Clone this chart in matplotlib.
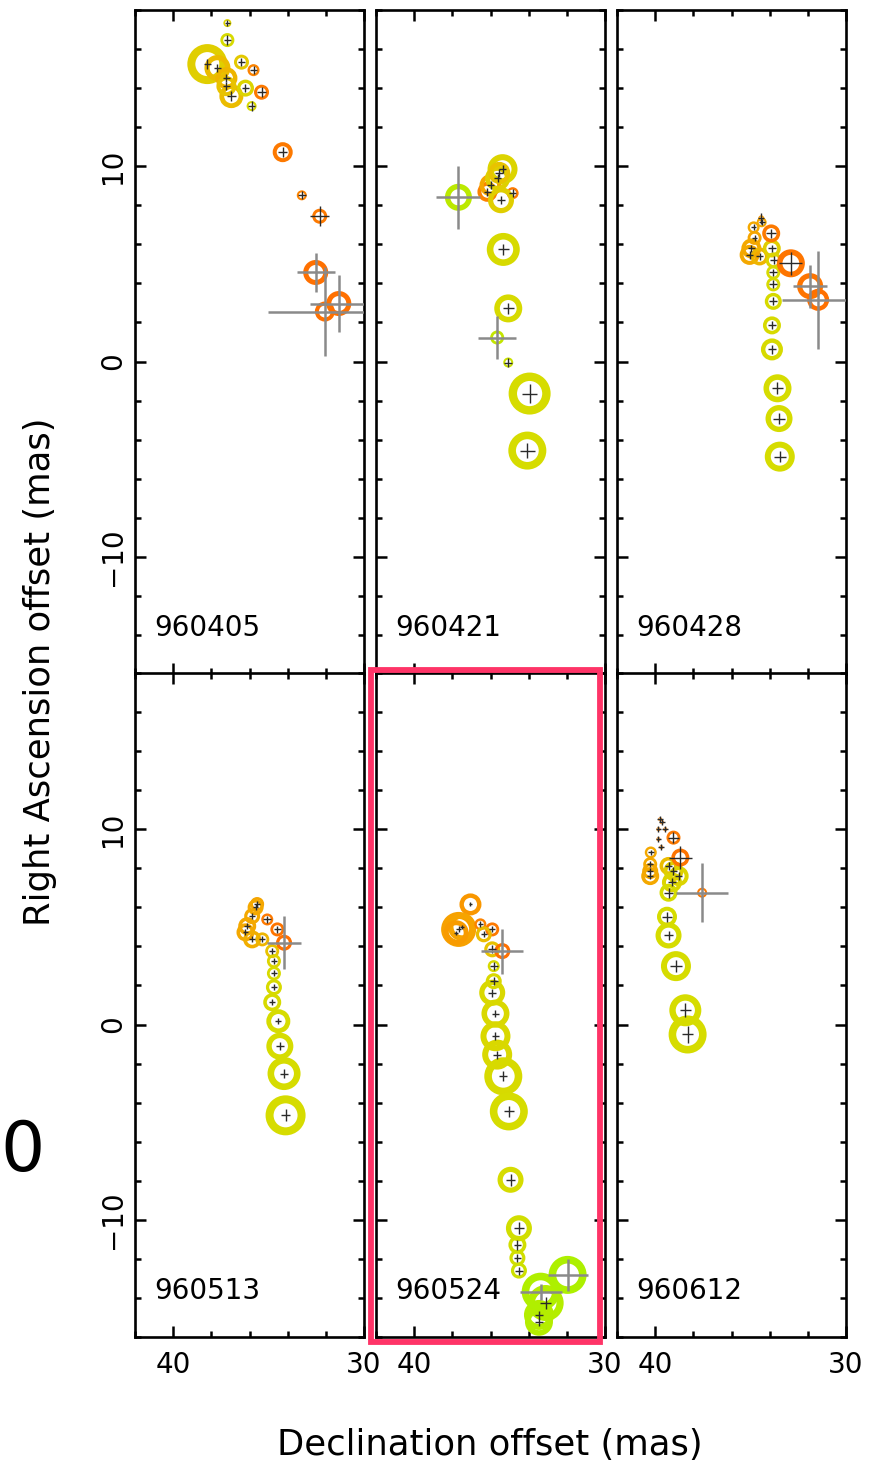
import numpy as np
import matplotlib
matplotlib.use("Agg")
import matplotlib.pyplot as plt
from matplotlib.colors import LinearSegmentedColormap
from matplotlib.ticker import MultipleLocator, FixedLocator
from matplotlib.patches import Rectangle

# ---------------- data (mas) ----------------
labels = ["960405", "960421", "960428", "960513", "960524", "960612"]

p1_x = [37.16, 37.16, 38.21, 37.68, 37.21, 36.42, 35.79, 36.95, 37.21, 36.21, 35.37, 35.89, 34.26, 33.26, 32.32, 32.53, 31.32, 32.05]
p1_y = [17.33, 16.46, 15.23, 15.03, 14.51, 15.33, 14.92, 13.59, 14.10, 14.00, 13.79, 13.08, 10.72, 8.51, 7.44, 4.56, 2.97, 2.56]
p1_s = [8, 14, 40, 26, 22, 15, 12, 24, 20, 17, 15, 10, 20, 10, 15, 25, 25, 20]
p1_v = [0.65, 0.7, 0.6, 0.45, 0.4, 0.55, 0.1, 0.45, 0.5, 0.65, 0.05, 0.7, 0.05, 0.1, 0.05, 0.0, 0.0, 0.0]
p1_ex = [0.15, 0.2, 0.2, 0.2, 0.2, 0.2, 0.2, 0.25, 0.2, 0.2, 0.25, 0.2, 0.25, 0.2, 0.5, 1.0, 1.5, 3.0]
p1_ey = [0.15, 0.25, 0.25, 0.2, 0.2, 0.2, 0.2, 0.25, 0.2, 0.2, 0.25, 0.25, 0.25, 0.2, 0.5, 1.0, 1.45, 2.3]

p2_x = [36.16, 34.84, 36.00, 35.63, 35.37, 35.54, 35.45, 37.68, 35.33, 35.07, 35.65, 35.07, 33.95, 34.07]
p2_y = [8.69, 8.62, 9.03, 9.38, 9.85, 9.66, 8.26, 8.41, 5.74, 2.72, 1.23, -0.05, -1.64, -4.56]
p2_s = [20, 12, 22, 25, 30, 22, 26, 27, 33, 28, 14, 10, 42, 38]
p2_v = [0.1, 0.05, 0.3, 0.6, 0.65, 0.5, 0.6, 0.9, 0.7, 0.7, 0.85, 0.8, 0.72, 0.72]
p2_ex = [0.2, 0.2, 0.2, 0.2, 0.2, 0.2, 0.2, 1.15, 0.3, 0.3, 1.0, 0.2, 0.4, 0.4]
p2_ey = [0.2, 0.2, 0.2, 0.2, 0.2, 0.2, 0.2, 1.6, 0.3, 0.3, 1.1, 0.25, 0.5, 0.4]

p3_x = [34.44, 34.42, 34.84, 34.79, 34.96, 35.05, 34.53, 33.89, 33.79, 33.92, 33.81, 33.81, 33.81, 33.88, 33.88, 33.59, 33.51, 33.47, 32.89, 31.88, 31.46]
p3_y = [7.33, 7.13, 6.87, 6.33, 5.79, 5.46, 5.38, 5.79, 5.18, 6.56, 4.56, 3.95, 3.08, 1.85, 0.62, -1.37, -2.92, -4.87, 5.03, 3.86, 3.16]
p3_s = [6, 10, 12, 14, 20, 20, 18, 18, 16, 18, 14, 14, 17, 18, 22, 28, 27, 30, 28, 26, 22]
p3_v = [0.2, 0.3, 0.3, 0.28, 0.3, 0.3, 0.4, 0.6, 0.65, 0.05, 0.7, 0.7, 0.7, 0.7, 0.7, 0.72, 0.72, 0.72, 0.03, 0.02, 0.0]
p3_ex = [0.15, 0.15, 0.15, 0.15, 0.2, 0.2, 0.2, 0.2, 0.2, 0.25, 0.2, 0.2, 0.2, 0.2, 0.2, 0.3, 0.3, 0.3, 0.6, 0.9, 1.9]
p3_ey = [0.3, 0.15, 0.15, 0.15, 0.2, 0.2, 0.2, 0.2, 0.2, 0.25, 0.2, 0.2, 0.2, 0.2, 0.25, 0.3, 0.3, 0.3, 0.6, 1.1, 2.5]

p4_x = [35.60, 35.68, 35.86, 36.12, 36.21, 35.86, 35.33, 35.07, 34.54, 34.81, 34.72, 34.72, 34.72, 34.81, 34.49, 34.41, 34.19, 34.11, 34.19]
p4_y = [6.17, 6.00, 5.55, 5.04, 4.72, 4.36, 4.36, 5.38, 4.87, 3.76, 3.25, 2.62, 1.91, 1.14, 0.17, -1.11, -2.51, -4.65, 4.19]
p4_s = [14, 16, 16, 18, 18, 18, 14, 12, 14, 14, 14, 14, 16, 18, 24, 27, 33, 40, 16]
p4_v = [0.28, 0.3, 0.3, 0.3, 0.3, 0.35, 0.4, 0.05, 0.02, 0.5, 0.65, 0.7, 0.7, 0.7, 0.72, 0.72, 0.72, 0.72, 0.0]
p4_ex = [0.15, 0.15, 0.15, 0.15, 0.15, 0.15, 0.15, 0.2, 0.2, 0.15, 0.15, 0.15, 0.15, 0.15, 0.15, 0.2, 0.2, 0.25, 0.9]
p4_ey = [0.15, 0.15, 0.15, 0.15, 0.15, 0.15, 0.15, 0.2, 0.2, 0.15, 0.15, 0.15, 0.15, 0.15, 0.15, 0.2, 0.25, 0.3, 1.35]

p5_x = [37.05, 37.67, 37.50, 37.80, 36.53, 35.91, 36.35, 35.91, 35.83, 35.83, 35.91, 35.74, 35.74, 35.65, 35.33, 35.04, 34.95, 34.51, 34.59, 34.59, 34.51, 33.46, 33.46, 33.11, 33.37, 31.96, 35.38]
p5_y = [6.15, 4.87, 5.00, 4.70, 5.13, 4.87, 4.62, 3.85, 2.99, 2.22, 1.63, 0.56, -0.60, -1.54, -2.65, -4.45, -7.95, -10.43, -11.28, -11.95, -12.60, -15.22, -14.87, -14.26, -13.68, -12.82, 3.76]
p5_s = [22, 35, 28, 25, 12, 14, 16, 16, 12, 16, 26, 28, 30, 30, 38, 38, 26, 26, 18, 16, 16, 28, 30, 36, 38, 38, 16]
p5_v = [0.2, 0.25, 0.27, 0.22, 0.1, 0.05, 0.45, 0.5, 0.7, 0.68, 0.68, 0.68, 0.68, 0.68, 0.7, 0.72, 0.72, 0.75, 0.75, 0.75, 0.78, 0.95, 0.95, 0.95, 0.98, 1.0, 0.0]
p5_ex = [0.1, 0.15, 0.1, 0.1, 0.15, 0.15, 0.15, 0.2, 0.2, 0.2, 0.2, 0.2, 0.2, 0.2, 0.2, 0.25, 0.25, 0.25, 0.2, 0.2, 0.2, 0.2, 0.2, 0.3, 1.1, 1.05, 1.1]
p5_ey = [0.1, 0.15, 0.1, 0.1, 0.15, 0.15, 0.15, 0.2, 0.2, 0.2, 0.2, 0.2, 0.2, 0.2, 0.25, 0.3, 0.3, 0.3, 0.25, 0.2, 0.2, 0.2, 0.2, 0.3, 0.4, 0.8, 1.15]

p6_x = [39.74, 39.65, 39.83, 39.47, 39.83, 39.68, 40.23, 40.26, 40.26, 40.26, 39.30, 39.04, 38.77, 39.12, 39.30, 39.04, 38.68, 37.54, 39.38, 39.30, 38.91, 38.42, 38.30]
p6_y = [10.51, 10.36, 10.00, 10.00, 9.49, 9.08, 8.81, 8.21, 7.86, 7.60, 8.12, 7.86, 7.60, 7.28, 6.75, 9.57, 8.55, 6.75, 5.52, 4.56, 2.99, 0.73, -0.51]
p6_s = [4, 4, 4, 4, 4, 4, 12, 14, 16, 18, 18, 20, 20, 20, 18, 14, 18, 10, 20, 26, 30, 32, 38]
p6_v = [0.1, 0.1, 0.1, 0.1, 0.1, 0.1, 0.3, 0.3, 0.3, 0.3, 0.45, 0.6, 0.65, 0.65, 0.72, 0.05, 0.02, 0.05, 0.72, 0.72, 0.72, 0.72, 0.72]
p6_ex = [0.15, 0.15, 0.15, 0.15, 0.15, 0.15, 0.15, 0.15, 0.15, 0.15, 0.2, 0.2, 0.2, 0.2, 0.25, 0.3, 0.6, 1.35, 0.25, 0.25, 0.3, 0.3, 0.3]
p6_ey = [0.15, 0.15, 0.15, 0.15, 0.15, 0.15, 0.15, 0.15, 0.15, 0.15, 0.2, 0.2, 0.2, 0.2, 0.25, 0.3, 0.6, 1.5, 0.25, 0.25, 0.3, 0.35, 0.45]

x_ticks_major = [40, 30]
y_ticks_major = [-10, 0, 10]

panels = [
    (p1_x, p1_y, p1_s, p1_v, p1_ex, p1_ey),
    (p2_x, p2_y, p2_s, p2_v, p2_ex, p2_ey),
    (p3_x, p3_y, p3_s, p3_v, p3_ex, p3_ey),
    (p4_x, p4_y, p4_s, p4_v, p4_ex, p4_ey),
    (p5_x, p5_y, p5_s, p5_v, p5_ex, p5_ey),
    (p6_x, p6_y, p6_s, p6_v, p6_ex, p6_ey),
]

# ---------------- style ----------------
plt.rcParams['font.family'] = ['DejaVu Sans']
cmap = LinearSegmentedColormap.from_list(
    "ring", [(0.0, "#ff7000"), (0.25, "#f7a100"), (0.5, "#e8c300"),
             (0.72, "#d6dc00"), (1.0, "#adf000")])

W, H = 874, 1466
fig = plt.figure(figsize=(W / 100, H / 100), dpi=100)

col_left = [135, 376, 617]
ax_w = 229
row_top = [10, 673]
ax_h = 664

PX = 0.72  # points per pixel at dpi 100

for i, (xs, ys, ss, vs, exs, eys) in enumerate(panels):
    r, c = divmod(i, 3)
    ax = fig.add_axes([col_left[c] / W, 1 - (row_top[r] + ax_h) / H, ax_w / W, ax_h / H])
    ax.set_xlim(42, 30)
    ax.set_ylim(-16, 18)

    xs = np.array(xs); ys = np.array(ys); ss = np.array(ss, float)
    d_pt = ss * PX
    lw = 0.2 * d_pt
    inner = d_pt - lw
    cols = cmap(np.array(vs))
    ax.scatter(xs, ys, s=inner ** 2, facecolors='none', edgecolors=cols,
               linewidths=lw, zorder=2, clip_on=True)

    exs = np.array(exs); eys = np.array(eys)
    big = np.maximum(exs, eys) > 0.7
    if (~big).any():
        ax.errorbar(xs[~big], ys[~big], xerr=exs[~big], yerr=eys[~big], fmt='none',
                    ecolor='#2a2a2a', elinewidth=1.0, capsize=0, zorder=3)
    if big.any():
        ax.errorbar(xs[big], ys[big], xerr=exs[big], yerr=eys[big], fmt='none',
                    ecolor='#8a8a8a', elinewidth=1.8, capsize=0, zorder=3)

    ax.xaxis.set_major_locator(FixedLocator(x_ticks_major))
    ax.xaxis.set_minor_locator(MultipleLocator(2))
    ax.yaxis.set_major_locator(FixedLocator(y_ticks_major))
    ax.yaxis.set_minor_locator(MultipleLocator(2))
    ax.tick_params(which='both', direction='in', top=True, right=True, width=1.8, color='black')
    ax.tick_params(which='major', length=8)
    ax.tick_params(which='minor', length=4.5)
    ax.tick_params(axis='x', labelsize=20, pad=10)
    ax.tick_params(axis='y', labelsize=20, pad=6, labelrotation=90)
    ax.set_yticklabels(['\u221210', '0', '10'], va='center')
    if c != 0:
        ax.tick_params(axis='y', labelleft=False)
    if r != 1:
        ax.tick_params(axis='x', labelbottom=False)
    for sp in ax.spines.values():
        sp.set_linewidth(1.9)
    ax.text(0.085, 0.07, labels[i], transform=ax.transAxes, fontsize=20,
            ha='left', va='center', color='black', zorder=1)

fig.text(40 / W, 1 - 672 / H, "Right Ascension offset (mas)", rotation=90,
         ha='center', va='center', fontsize=25.5)
fig.text(490 / W, 1 - 1445 / H, "Declination offset (mas)",
         ha='center', va='center', fontsize=25.5)

# highlight box
fig.patches.append(Rectangle((371 / W, 1 - 1342 / H), (600 - 371) / W, (1342 - 670) / H,
                             transform=fig.transFigure, fill=False,
                             edgecolor='#fe3467', linewidth=4.2, zorder=10))

# stray large glyph at left edge (kept fully inside the canvas)
fig.text(0.5 / W, 1 - 1152 / H, "0", ha='left', va='center', fontsize=50, color='black')

fig.savefig("out.png", dpi=100)
